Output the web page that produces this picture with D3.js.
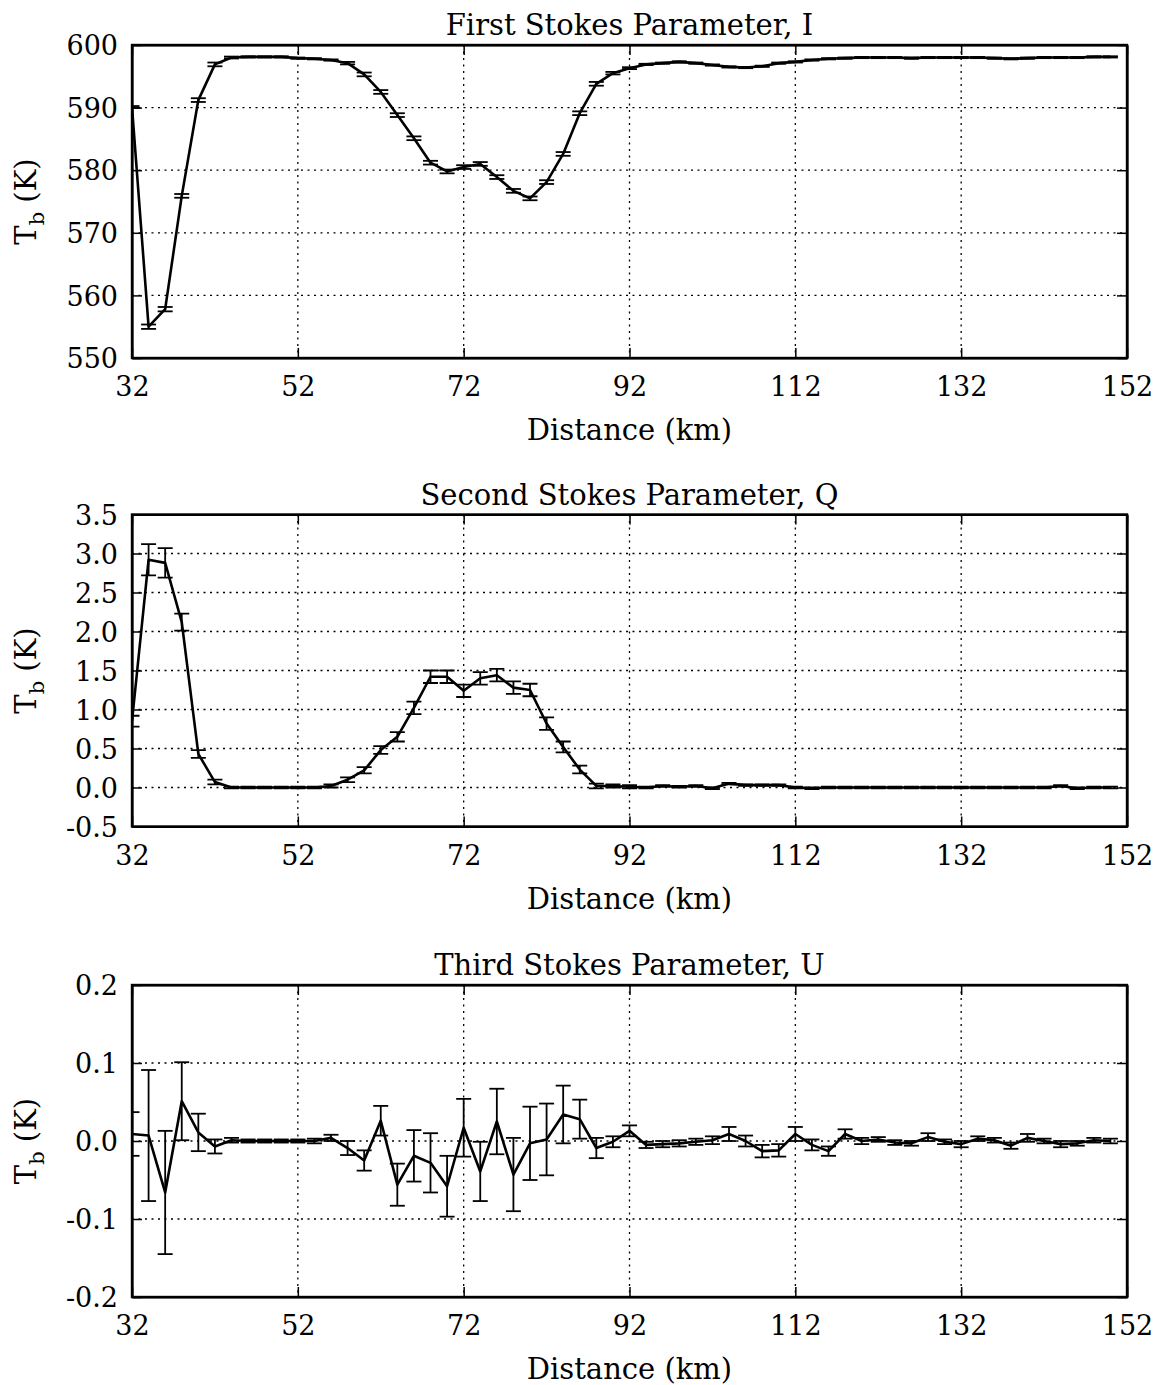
<!DOCTYPE html>
<html>
<head>
<meta charset="utf-8">
<script src="https://cdn.jsdelivr.net/npm/d3@7"></script>
<style>
  body { margin: 0; background: #fff; }
  svg { display: block; font-family: "DejaVu Serif", serif; }
  .grid line { stroke: #000; stroke-width: 1.3; stroke-dasharray: 2, 4.5; }
  .axis path { stroke: #000; stroke-width: 2.2; }
  .axis line { stroke: #000; stroke-width: 1.5; }
  .axis text { font-family: "DejaVu Serif", serif; font-size: 27px; fill: #000; }
</style>
</head>
<body>
<div id="chart"></div>
<script>
// Distance of each sample (km)
const distances = [32, 34, 36, 38, 40, 42, 44, 46, 48, 50, 52, 54, 56, 58, 60, 62, 64, 66, 68, 70,
  72, 74, 76, 78, 80, 82, 84, 86, 88, 90, 92, 94, 96, 98, 100, 102, 104, 106, 108, 110,
  112, 114, 116, 118, 120, 122, 124, 126, 128, 130, 132, 134, 136, 138, 140, 142, 144, 146, 148, 150];

// First Stokes parameter I (K)
const iValues = [590.1, 555.0, 557.8, 575.9, 591.2, 596.9, 598.0, 598.1, 598.1, 598.1, 597.9, 597.8, 597.6, 597.1, 595.3, 592.5, 588.8, 585.1, 581.2, 579.8,
  580.5, 581.0, 578.9, 576.7, 575.5, 578.1, 582.6, 589.1, 593.8, 595.5, 596.3, 596.9, 597.1, 597.3, 597.1, 596.8, 596.5, 596.4, 596.6, 597.1,
  597.3, 597.6, 597.8, 597.9, 598.0, 598.0, 598.0, 597.9, 598.0, 598.0, 598.0, 598.0, 597.9, 597.8, 597.9, 598.0, 598.0, 598.0, 598.1, 598.1];
const iErrors = [0.15, 0.35, 0.35, 0.3, 0.3, 0.3, 0.15, 0.1, 0.1, 0.1, 0.1, 0.1, 0.1, 0.2, 0.3, 0.3, 0.3, 0.3, 0.3, 0.3,
  0.3, 0.3, 0.3, 0.3, 0.3, 0.3, 0.3, 0.3, 0.3, 0.2, 0.15, 0.1, 0.1, 0.1, 0.1, 0.1, 0.1, 0.1, 0.1, 0.1,
  0.1, 0.1, 0.1, 0.1, 0.1, 0.1, 0.1, 0.1, 0.1, 0.1, 0.1, 0.1, 0.1, 0.1, 0.1, 0.1, 0.1, 0.1, 0.1, 0.1];

// Second Stokes parameter Q (K)
const qValues = [0.85, 2.92, 2.88, 2.12, 0.43, 0.07, 0.0, 0.0, 0.0, 0.0, 0.0, 0.0, 0.02, 0.10, 0.22, 0.48, 0.65, 1.02, 1.42, 1.42,
  1.24, 1.40, 1.44, 1.28, 1.25, 0.82, 0.52, 0.23, 0.02, 0.02, 0.01, 0.0, 0.02, 0.01, 0.02, -0.01, 0.05, 0.03, 0.03, 0.03,
  0.0, -0.01, 0.0, 0.0, 0.0, 0.0, 0.0, 0.0, 0.0, 0.0, 0.0, 0.0, 0.0, 0.0, 0.0, 0.0, 0.02, -0.01, 0.0, 0.0];
const qErrors = [0.07, 0.2, 0.19, 0.11, 0.05, 0.03, 0.01, 0.01, 0.01, 0.01, 0.01, 0.01, 0.02, 0.03, 0.04, 0.05, 0.06, 0.08, 0.08, 0.08,
  0.08, 0.08, 0.08, 0.08, 0.08, 0.08, 0.07, 0.05, 0.03, 0.02, 0.02, 0.01, 0.01, 0.01, 0.01, 0.01, 0.01, 0.01, 0.01, 0.01,
  0.01, 0.01, 0.01, 0.01, 0.01, 0.01, 0.01, 0.01, 0.01, 0.01, 0.01, 0.01, 0.01, 0.01, 0.01, 0.01, 0.01, 0.01, 0.01, 0.01];

// Third Stokes parameter U (K)
const uValues = [0.009, 0.007, -0.066, 0.051, 0.011, -0.007, 0.001, 0.0, 0.0, 0.0, 0.0, 0.0, 0.004, -0.009, -0.025, 0.026, -0.056, -0.019, -0.028, -0.058,
  0.017, -0.039, 0.025, -0.043, -0.003, 0.002, 0.034, 0.028, -0.009, -0.001, 0.013, -0.005, -0.004, -0.003, -0.001, 0.001, 0.009, 0.0, -0.013, -0.012,
  0.009, -0.005, -0.013, 0.009, 0.0, 0.002, -0.002, -0.003, 0.005, -0.001, -0.004, 0.003, 0.001, -0.006, 0.004, 0.0, -0.004, -0.003, 0.001, 0.0];
const uErrors = [0.028, 0.084, 0.079, 0.05, 0.024, 0.009, 0.003, 0.002, 0.002, 0.002, 0.002, 0.003, 0.004, 0.009, 0.013, 0.019, 0.027, 0.033, 0.038, 0.039,
  0.037, 0.038, 0.042, 0.047, 0.047, 0.046, 0.037, 0.025, 0.013, 0.007, 0.007, 0.004, 0.004, 0.004, 0.004, 0.005, 0.009, 0.007, 0.008, 0.008,
  0.009, 0.007, 0.006, 0.006, 0.004, 0.003, 0.003, 0.003, 0.005, 0.003, 0.004, 0.003, 0.003, 0.004, 0.005, 0.003, 0.004, 0.003, 0.003, 0.003];

// Tick labels
const xTicks = [32, 52, 72, 92, 112, 132, 152];
const iTicks = [550, 560, 570, 580, 590, 600];
const qTicks = [-0.5, 0, 0.5, 1.0, 1.5, 2.0, 2.5, 3.0, 3.5];
const uTicks = [-0.2, -0.1, 0, 0.1, 0.2];

// plain hyphen for negatives, like the original
const fmt1 = v => d3.format(".1f")(v).replace("\u2212", "-");

const panels = [
  { title: "First Stokes Parameter, I", values: iValues, errors: iErrors, ticks: iTicks, fmt: d3.format("d"), top: 45, height: 313 },
  { title: "Second Stokes Parameter, Q", values: qValues, errors: qErrors, ticks: qTicks, fmt: fmt1, top: 514.5, height: 312 },
  { title: "Third Stokes Parameter, U", values: uValues, errors: uErrors, ticks: uTicks, fmt: fmt1, top: 985, height: 312 }
];

const svgWidth = 1165, svgHeight = 1385;
const left = 132, right = 1127;
const capHalf = 7.5;

const svg = d3.select("#chart").append("svg")
  .attr("width", svgWidth)
  .attr("height", svgHeight);

const x = d3.scaleLinear().domain([32, 152]).range([left, right]);

panels.forEach((p, idx) => {
  const y = d3.scaleLinear()
    .domain([p.ticks[0], p.ticks[p.ticks.length - 1]])
    .range([p.top + p.height, p.top]);
  const g = svg.append("g");

  // clip for data
  const clipId = "clip" + idx;
  svg.append("clipPath").attr("id", clipId)
    .append("rect")
    .attr("x", left).attr("y", p.top)
    .attr("width", right - left).attr("height", p.height);

  // dotted grid
  const grid = g.append("g").attr("class", "grid");
  grid.selectAll(".gx")
    .data(xTicks.slice(1, -1))
    .join("line")
    .attr("x1", d => x(d)).attr("x2", d => x(d))
    .attr("y1", p.top).attr("y2", p.top + p.height);
  grid.selectAll(".gy")
    .data(p.ticks.slice(1, -1))
    .join("line")
    .attr("class", "gy")
    .attr("x1", left).attr("x2", right)
    .attr("y1", d => y(d)).attr("y2", d => y(d));

  // axes with inward ticks on all four sides
  const xBottom = g.append("g").attr("class", "axis")
    .attr("transform", `translate(0,${p.top + p.height})`)
    .call(d3.axisBottom(x).tickValues(xTicks).tickSizeInner(-10).tickSizeOuter(0).tickPadding(19).tickFormat(d3.format("d")));
  g.append("g").attr("class", "axis")
    .attr("transform", `translate(0,${p.top})`)
    .call(d3.axisTop(x).tickValues(xTicks).tickSizeInner(-10).tickSizeOuter(0).tickFormat(""));
  const yLeft = g.append("g").attr("class", "axis")
    .attr("transform", `translate(${left},0)`)
    .call(d3.axisLeft(y).tickValues(p.ticks).tickSizeInner(-10).tickSizeOuter(0).tickPadding(14).tickFormat(p.fmt));
  g.append("g").attr("class", "axis")
    .attr("transform", `translate(${right},0)`)
    .call(d3.axisRight(y).tickValues(p.ticks).tickSizeInner(-10).tickSizeOuter(0).tickFormat(""));

  xBottom.selectAll(".tick text").attr("dy", "0.71em");
  yLeft.selectAll(".tick text").attr("dy", "0.36em");

  // data
  const pts = distances.map((d, i) => ({ d: d, v: p.values[i], e: p.errors[i] }));
  const data = g.append("g").attr("clip-path", `url(#${clipId})`);

  const bars = data.selectAll(".err")
    .data(pts)
    .join("g")
    .attr("class", "err")
    .attr("stroke", "#000")
    .attr("stroke-width", 1.8);
  bars.append("line")
    .attr("x1", d => x(d.d)).attr("x2", d => x(d.d))
    .attr("y1", d => y(d.v - d.e)).attr("y2", d => y(d.v + d.e));
  bars.append("line")
    .attr("x1", d => x(d.d) - capHalf).attr("x2", d => x(d.d) + capHalf)
    .attr("y1", d => y(d.v + d.e)).attr("y2", d => y(d.v + d.e));
  bars.append("line")
    .attr("x1", d => x(d.d) - capHalf).attr("x2", d => x(d.d) + capHalf)
    .attr("y1", d => y(d.v - d.e)).attr("y2", d => y(d.v - d.e));

  data.append("path")
    .datum(pts)
    .attr("fill", "none")
    .attr("stroke", "#000")
    .attr("stroke-width", 2.6)
    .attr("stroke-linejoin", "round")
    .attr("d", d3.line().x(d => x(d.d)).y(d => y(d.v)));

  // frame
  g.append("rect")
    .attr("x", left).attr("y", p.top)
    .attr("width", right - left).attr("height", p.height)
    .attr("fill", "none").attr("stroke", "#000").attr("stroke-width", 2.4);

  // title
  svg.append("text")
    .attr("x", (left + right) / 2)
    .attr("y", p.top - 10)
    .attr("text-anchor", "middle")
    .style("font-size", "29px")
    .text(p.title);

  // x label
  svg.append("text")
    .attr("x", (left + right) / 2)
    .attr("y", p.top + p.height + 82)
    .attr("text-anchor", "middle")
    .style("font-size", "29px")
    .text("Distance (km)");

  // y label, T with subscript b
  const yl = svg.append("text")
    .attr("transform", `translate(36,${p.top + p.height / 2}) rotate(-90)`)
    .attr("text-anchor", "middle")
    .style("font-size", "29px");
  yl.append("tspan").text("T");
  yl.append("tspan").attr("dy", 8).style("font-size", "21px").text("b");
  yl.append("tspan").attr("dy", -8).text(" (K)");
});
</script>
</body>
</html>
